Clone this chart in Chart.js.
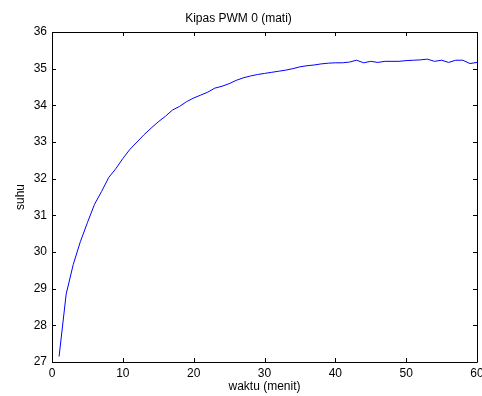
<!DOCTYPE html>
<html>
<head>
<meta charset="utf-8">
<script src="https://cdn.jsdelivr.net/npm/chart.js@4/dist/chart.umd.min.js"></script>
<style>
  html, body { margin: 0; padding: 0; background: #fff; }
  #wrap { width: 482px; height: 396px; }
</style>
</head>
<body>
<div id="wrap"><canvas id="suhuChart" width="482" height="396"></canvas></div>
<script>
// data (menit ke-1 s/d 60)
const waktu = [1,2,3,4,5,6,7,8,9,10,11,12,13,14,15,16,17,18,19,20,21,22,23,24,25,26,27,28,29,30,
  31,32,33,34,35,36,37,38,39,40,41,42,43,44,45,46,47,48,49,50,51,52,53,54,55,56,57,58,59,60];
const suhu = [27.15,28.85,29.66,30.28,30.8,31.3,31.65,32.03,32.27,32.55,32.8,33.0,33.2,33.38,33.55,33.7,33.87,33.97,34.1,34.2,
  34.28,34.36,34.47,34.52,34.59,34.68,34.75,34.8,34.84,34.87,34.9,34.93,34.96,35.0,35.05,35.08,35.1,35.13,35.15,35.16,
  35.16,35.18,35.23,35.16,35.2,35.17,35.2,35.2,35.2,35.22,35.23,35.24,35.26,35.2,35.23,35.17,35.23,35.23,35.14,35.17];
const xTicks = [0, 10, 20, 30, 40, 50, 60];
const yTicks = [27, 28, 29, 30, 31, 32, 33, 34, 35, 36];

const fontFam = "'Liberation Sans', Arial, sans-serif";

// kotak sumbu + tick ke dalam (gaya matlab)
const boxPlugin = {
  id: 'boxTicks',
  afterDatasetsDraw(chart) {
    const ctx = chart.ctx, a = chart.chartArea;
    const xs = chart.scales.x, ys = chart.scales.y;
    const len = 4;
    ctx.save();
    ctx.strokeStyle = '#000';
    ctx.lineWidth = 1;
    ctx.beginPath();
    ctx.rect(Math.round(a.left) + 0.5, Math.round(a.top) + 0.5,
      Math.round(a.right - a.left), Math.round(a.bottom - a.top));
    xs.ticks.forEach((t, i) => {
      const px = Math.round(xs.getPixelForTick(i)) + 0.5;
      ctx.moveTo(px, a.bottom); ctx.lineTo(px, a.bottom - len);
      ctx.moveTo(px, a.top); ctx.lineTo(px, a.top + len);
    });
    ys.ticks.forEach((t, i) => {
      const py = Math.round(ys.getPixelForTick(i)) + 0.5;
      ctx.moveTo(a.left, py); ctx.lineTo(a.left + len, py);
      ctx.moveTo(a.right, py); ctx.lineTo(a.right - len, py);
    });
    ctx.stroke();
    ctx.restore();
  }
};

new Chart(document.getElementById('suhuChart'), {
  type: 'line',
  data: {
    datasets: [{
      data: waktu.map((w, i) => ({ x: w, y: suhu[i] })),
      borderColor: '#0000ff',
      borderWidth: 1,
      pointRadius: 0,
      tension: 0,
      fill: false
    }]
  },
  options: {
    responsive: false,
    animation: false,
    layout: { padding: { left: 0, right: 5, top: 0, bottom: 0 } },
    plugins: {
      legend: { display: false },
      tooltip: { enabled: false },
      title: {
        display: true,
        text: 'Kipas PWM 0 (mati)',
        color: '#000',
        font: { family: fontFam, size: 12, weight: 'normal' },
        padding: { top: 11, bottom: 6.6 }
      }
    },
    scales: {
      x: {
        type: 'linear',
        min: 0, max: 60,
        afterBuildTicks: s => { s.ticks = xTicks.map(v => ({ value: v })); },
        afterFit: s => { s.height = 34; s.paddingLeft = 0; s.paddingRight = 0; },
        grid: { display: false, drawTicks: false },
        border: { display: false },
        ticks: { color: '#000', padding: 4, maxRotation: 0, autoSkip: false,
          font: { family: fontFam, size: 12 } },
        title: { display: true, text: 'waktu (menit)', color: '#000',
          font: { family: fontFam, size: 12 }, padding: { top: 0, bottom: 2 } }
      },
      y: {
        min: 27, max: 36,
        afterBuildTicks: s => { s.ticks = yTicks.map(v => ({ value: v })); },
        afterFit: s => { s.width = 52; s.paddingTop = 0; s.paddingBottom = 0; },
        grid: { display: false, drawTicks: false },
        border: { display: false },
        ticks: { color: '#000', padding: 5, autoSkip: false,
          font: { family: fontFam, size: 12 } },
        title: { display: true, text: 'suhu', color: '#000',
          font: { family: fontFam, size: 12 }, padding: { top: 13, bottom: 0 } }
      }
    }
  },
  plugins: [boxPlugin]
});
</script>
</body>
</html>
